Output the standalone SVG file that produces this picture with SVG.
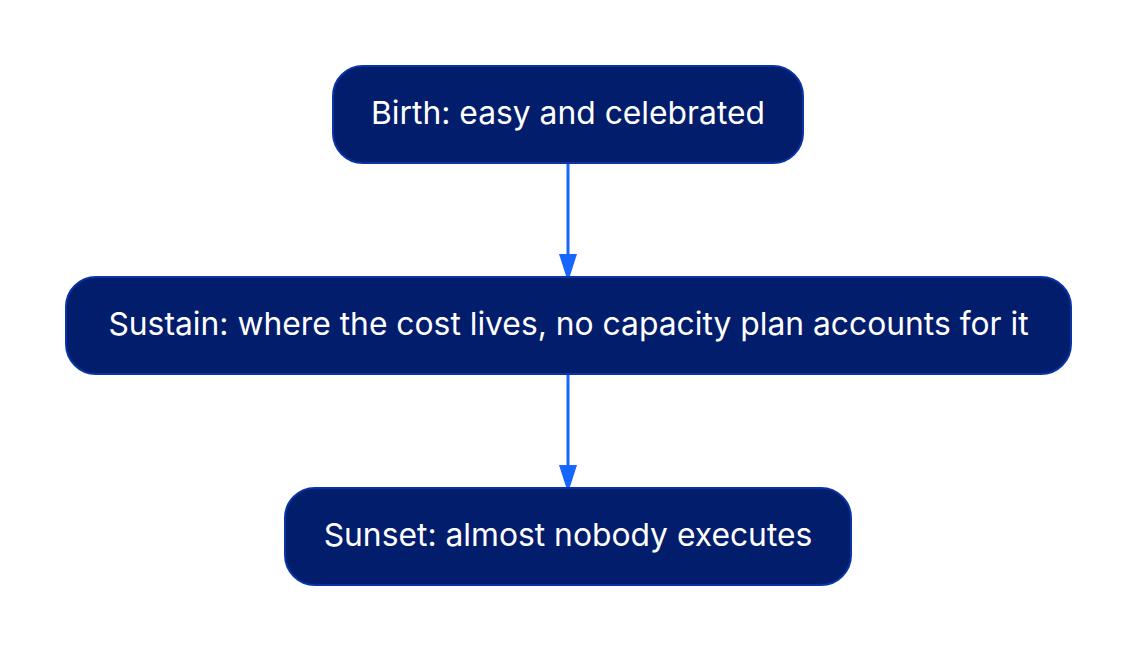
<svg xmlns="http://www.w3.org/2000/svg" width="1137" height="652" viewBox="0 0 1137 652">
<style>
.node rect{fill:#021d6b;stroke:#0a33a8;stroke-width:2}
.node text{fill:#ffffff;font-family:Inter,"Noto Sans","Liberation Sans",sans-serif;font-size:31.8px;text-anchor:middle}
.edge{stroke:#1766ff;stroke-width:3;fill:none}
.head{fill:#1766ff}
</style>
<rect width="1137" height="652" fill="#ffffff"/>
<g id="connectors">
<line class="edge" x1="568" y1="164" x2="568" y2="256"/>
<path class="head" d="M559,254 L577,254 L568,282 Z"/>
<line class="edge" x1="568" y1="375" x2="568" y2="467"/>
<path class="head" d="M559,465 L577,465 L568,493 Z"/>
</g>
<g id="birth" class="node">
<rect x="333" y="66" width="470" height="97" rx="30" ry="30"/>
<text x="568" y="123.5">Birth: easy and celebrated</text>
</g>
<g id="sustain" class="node">
<rect x="66" y="277" width="1005" height="97" rx="30" ry="30"/>
<text x="568.5" y="334.5">Sustain: where the cost lives, no capacity plan accounts for it</text>
</g>
<g id="sunset" class="node">
<rect x="285" y="488" width="566" height="97" rx="30" ry="30"/>
<text x="568" y="545.5">Sunset: almost nobody executes</text>
</g>
</svg>
